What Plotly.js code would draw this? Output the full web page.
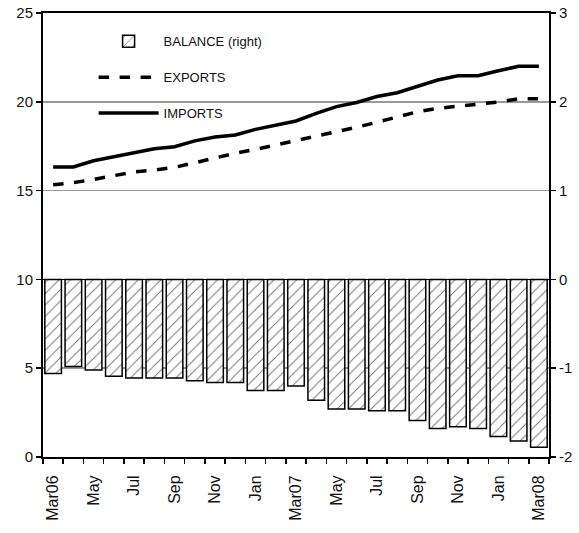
<!DOCTYPE html>
<html>
<head>
<meta charset="utf-8">
<script src="https://cdn.plot.ly/plotly-3.0.1.min.js"></script>
<style>html,body{margin:0;padding:0;background:#fff;}#chart{width:579px;height:533px;}</style>
</head>
<body>
<div id="chart"></div>
<script>
const months = ['Mar06','Apr06','May06','Jun06','Jul06','Aug06','Sep06','Oct06','Nov06','Dec06','Jan07','Feb07','Mar07','Apr07','May07','Jun07','Jul07','Aug07','Sep07','Oct07','Nov07','Dec07','Jan08','Feb08','Mar08'];
const tickLabels = ['Mar06','','May','','Jul','','Sep','','Nov','','Jan','','Mar07','','May','','Jul','','Sep','','Nov','','Jan','','Mar08'];
const balance = [-1.06,-0.98,-1.02,-1.09,-1.11,-1.11,-1.11,-1.14,-1.16,-1.16,-1.25,-1.25,-1.20,-1.36,-1.46,-1.46,-1.48,-1.48,-1.59,-1.68,-1.66,-1.68,-1.77,-1.82,-1.89];
const exportsVals = [15.33,15.45,15.63,15.82,16.05,16.16,16.31,16.57,16.85,17.10,17.32,17.57,17.81,18.04,18.32,18.57,18.85,19.16,19.44,19.63,19.76,19.88,19.99,20.17,20.17];
const importsVals = [16.33,16.33,16.68,16.90,17.13,17.36,17.47,17.80,18.02,18.13,18.45,18.69,18.92,19.35,19.73,19.96,20.30,20.51,20.85,21.23,21.47,21.47,21.75,22.00,22.00];
const rightTicks = [-2,-1,0,1,2,3];
const rightTickText = ['-2','-1','0','1','2','3'];

const fam = '"Liberation Sans", Arial, sans-serif';

const traces = [
  {type: 'bar', name: 'BALANCE (right)', x: months, y: balance, yaxis: 'y2', legendgroup: 'a',
   marker: {color: '#fff', line: {color: '#000', width: 1.5},
            pattern: {shape: '/', fgcolor: '#777', bgcolor: '#fff', size: 8, solidity: 0.12}}},
  {type: 'scatter', mode: 'lines', name: 'EXPORTS', x: months, y: exportsVals, legendgroup: 'b',
   line: {color: '#000', width: 3.5, dash: 'dash'}},
  {type: 'scatter', mode: 'lines', name: 'IMPORTS', x: months, y: importsVals, legendgroup: 'c',
   line: {color: '#000', width: 3.5}}
];

const layout = {
  width: 579, height: 533,
  margin: {l: 43, r: 30, t: 13, b: 76},
  paper_bgcolor: '#fff', plot_bgcolor: '#fff',
  font: {family: fam, size: 15, color: '#111'},
  bargap: 0.18,
  showlegend: true,
  legend: {x: 0.1, y: 0.97, xanchor: 'left', yanchor: 'top', bgcolor: 'rgba(0,0,0,0)',
           font: {family: fam, size: 13, color: '#111'}, tracegroupgap: 16, traceorder: 'grouped',
           itemwidth: 60},
  xaxis: {type: 'category', categoryorder: 'array', categoryarray: months,
          tickvals: months, ticktext: tickLabels, tickangle: -90, tickson: 'boundaries',
          ticks: 'outside', ticklen: 5, tickwidth: 1.5, tickcolor: '#000', ticklabelstandoff: 10,
          showline: true, linecolor: '#000', linewidth: 2, mirror: true, showgrid: false,
          tickfont: {family: fam, size: 16, color: '#111'}},
  yaxis: {range: [0, 25], dtick: 5, tick0: 0, ticks: 'outside', ticklen: 5, tickwidth: 1.5, tickcolor: '#000',
          showline: true, linecolor: '#000', linewidth: 2, showgrid: true, gridcolor: '#999', gridwidth: 1.5,
          zeroline: false, tickfont: {family: fam, size: 15, color: '#111'}},
  yaxis2: {range: [-2, 3], tickvals: rightTicks, ticktext: rightTickText, overlaying: 'y', side: 'right',
           ticks: 'outside', ticklen: 5,
           tickwidth: 1.5, tickcolor: '#000', showline: true, linecolor: '#000', linewidth: 2,
           showgrid: false, zeroline: true, zerolinecolor: '#000', zerolinewidth: 1.5,
           tickfont: {family: fam, size: 15, color: '#111'}}
};

Plotly.newPlot('chart', traces, layout, {displayModeBar: false, staticPlot: true});
</script>
</body>
</html>
